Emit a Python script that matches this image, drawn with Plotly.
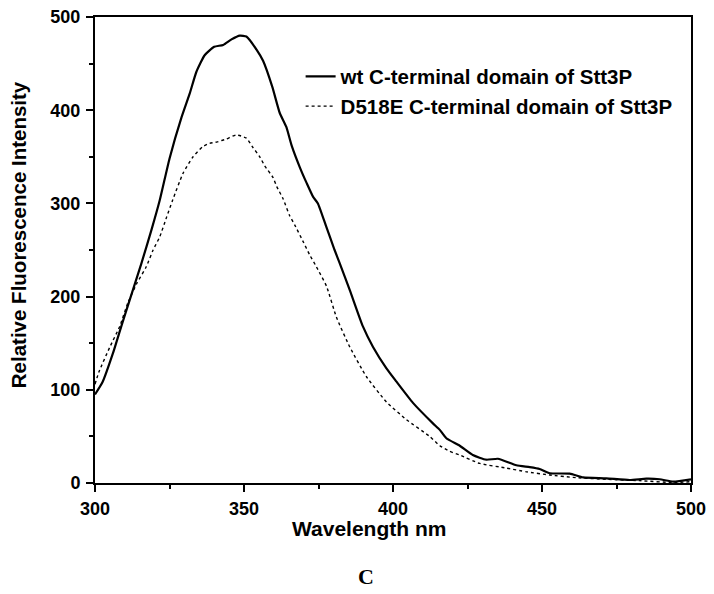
import plotly.graph_objects as go

# Wavelength (nm) and relative fluorescence intensity
wt_wavelength = [300, 302.5, 306, 309, 311.6, 315.6, 318.9, 321.7, 325, 329, 331.8, 334, 336.8,
                 340, 343, 345.8, 348.6, 350.8, 354.2, 356.4, 359.5, 362, 364.2, 366, 368.7,
                 371, 373.2, 374.8, 377.6, 380.4, 382.1, 385.5, 389.9, 393.3, 397.8, 401.1,
                 406.7, 413.4, 415.7, 417.9, 422.4, 426.8, 431.3, 435.2, 441.4, 445.9, 449.2,
                 452.6, 459.3, 463.8, 471.6, 479.4, 485, 489.5, 494, 500]
wt_intensity = [95, 108, 139, 170, 196, 236, 271, 303, 348, 392, 418, 441, 459,
                468, 470, 476, 480, 479, 465, 453, 425, 397, 382, 362, 339,
                322, 307, 300, 275, 250, 236, 207, 168, 146, 123, 109,
                86, 64, 57, 48, 40, 30, 25, 26, 19, 17, 15,
                10.5, 10, 6, 5, 3.2, 4.6, 4, 1.5, 4]

mut_wavelength = [300, 301.3, 305, 308.3, 311, 314, 317.2, 319.5, 321.7, 324, 326, 329.5, 332.9,
                  336.2, 338.5, 341, 344, 347.4, 350.8, 353, 355.3, 357, 359.7, 361, 363.1,
                  365.3, 367, 370, 372, 374.3, 377.7, 381, 385.5, 391.1, 397.8, 404.5, 412.3,
                  415.7, 419, 422.4, 429.1, 438.1, 444.8, 452.6, 460.4, 471.6, 482.8, 494, 500]
mut_intensity = [106, 119, 146, 168, 193, 214, 232, 250, 264, 285, 303, 332, 350,
                 361, 364.5, 366, 369, 373.5, 370, 360, 350, 340, 328, 318, 305,
                 287, 277, 258, 245, 232, 211, 178, 146, 114, 87, 68, 50,
                 40, 34, 30, 21, 16, 12, 8.6, 6, 4, 2.5, 0.5, 1.4]

series_names = ["wt C-terminal domain of Stt3P", "D518E C-terminal domain of Stt3P"]
x_ticks = [300, 350, 400, 450, 500]
y_ticks = [0, 100, 200, 300, 400, 500]

FONT = "Liberation Sans, Arial, sans-serif"

fig = go.Figure()
fig.add_trace(go.Scatter(x=wt_wavelength, y=wt_intensity, mode="lines", name=series_names[0],
                         line=dict(color="black", width=2.2, shape="spline", smoothing=0.5)))
fig.add_trace(go.Scatter(x=mut_wavelength, y=mut_intensity, mode="lines", name=series_names[1],
                         line=dict(color="black", width=1.4, dash="dot", shape="spline", smoothing=0.5)))

axis_common = dict(showgrid=False, zeroline=False, showline=True, linecolor="black", linewidth=2,
                   mirror=True, ticks="outside", ticklen=7, tickwidth=2, tickcolor="black",
                   automargin=False, ticklabeloverflow="allow",
                   tickfont=dict(family=FONT, size=18, color="black", weight="bold"))

fig.update_xaxes(range=[300, 500], tickvals=x_ticks, ticklabelstandoff=1,
                 minor=dict(ticks="outside", ticklen=4, tickwidth=2, tickcolor="black", dtick=25, tick0=300),
                 **axis_common)
fig.update_yaxes(range=[0, 500], tickvals=y_ticks, ticklabelstandoff=2,
                 minor=dict(ticks="outside", ticklen=4, tickwidth=2, tickcolor="black", dtick=50, tick0=0),
                 **axis_common)

# The page body has an 8px default margin, so the figure is 8px smaller and margins shifted.
fig.update_layout(
    width=706, height=586,
    margin=dict(l=87, r=23, t=9, b=111, autoexpand=False),
    plot_bgcolor="white", paper_bgcolor="white",
    showlegend=True,
    legend=dict(x=0.345, y=0.915, xanchor="left", yanchor="top", bgcolor="rgba(0,0,0,0)",
                font=dict(family=FONT, size=20.5, color="black", weight="bold"),
                tracegroupgap=0, itemwidth=30),
    annotations=[
        dict(text="Relative Fluorescence Intensity", xref="paper", yref="paper", x=-0.129, y=0.532,
             textangle=-90, showarrow=False, xanchor="center", yanchor="middle",
             font=dict(family=FONT, size=20.5, color="black", weight="bold")),
        dict(text="Wavelength nm", xref="paper", yref="paper", x=0.46, y=-0.0966,
             showarrow=False, xanchor="center", yanchor="middle",
             font=dict(family=FONT, size=21, color="black", weight="bold")),
        dict(text="C", xref="paper", yref="paper", x=0.4555, y=-0.2006,
             showarrow=False, xanchor="center", yanchor="middle",
             font=dict(family="Liberation Serif, Times New Roman, serif", size=22, color="black", weight="bold")),
    ],
)

fig.write_html("out.html")
